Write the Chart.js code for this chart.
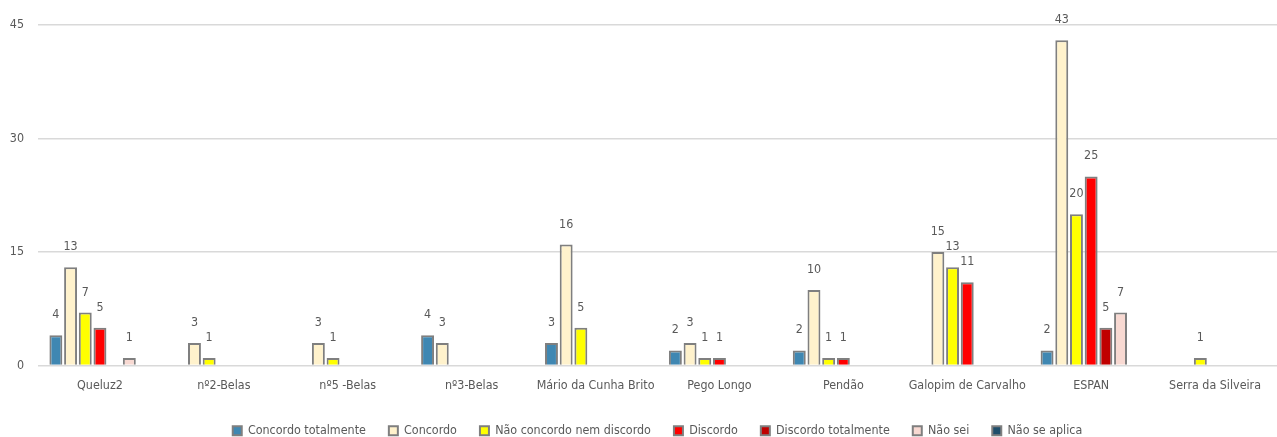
<!DOCTYPE html>
<html>
<head>
<meta charset="utf-8">
<script src="https://cdn.jsdelivr.net/npm/chart.js@4"></script>
<style>
  html, body { margin: 0; padding: 0; background: #fff; }
  #wrap { width: 1277px; height: 437px; }
</style>
</head>
<body>
<div id="wrap"><canvas id="myChart"></canvas></div>
<script>
"use strict";
const escolas = ['Queluz2', 'nº2-Belas', 'nº5 -Belas', 'nº3-Belas', 'Mário da Cunha Brito', 'Pego Longo', 'Pendão', 'Galopim de Carvalho', 'ESPAN', 'Serra da Silveira'];
const concordoTotalmente = [4, 0, 0, 4, 3, 2, 2, 0, 2, 0];
const concordo = [13, 3, 3, 3, 16, 3, 10, 15, 43, 0];
const naoConcordoNemDiscordo = [7, 1, 1, 0, 5, 1, 1, 13, 20, 1];
const discordo = [5, 0, 0, 0, 0, 1, 1, 11, 25, 0];
const discordoTotalmente = [0, 0, 0, 0, 0, 0, 0, 0, 5, 0];
const naoSei = [1, 0, 0, 0, 0, 0, 0, 0, 7, 0];
const naoSeAplica = [0, 0, 0, 0, 0, 0, 0, 0, 0, 0];
const yTicks = [0, 15, 30, 45];

const fonte = "'Liberation Sans Narrow', 'DejaVu Sans Condensed', sans-serif";
const tamanho = 12.4;
const cinza = '#595959';

// etiquetas de valor por cima das barras
const valorLabels = {
    id: 'valorLabels',
    afterDatasetsDraw(chart) {
        const c = chart.ctx;
        c.save();
        c.font = tamanho + 'px ' + fonte;
        c.fillStyle = cinza;
        c.textAlign = 'center';
        c.textBaseline = 'bottom';
        chart.data.datasets.forEach(function(ds, i) {
            const meta = chart.getDatasetMeta(i);
            meta.data.forEach(function(bar, j) {
                const v = ds.data[j];
                if (!v) return;
                c.fillText(String(v), bar.x, bar.y - 14);
            });
        });
        c.restore();
    }
};

function serie(label, data, cor) {
    return {
        label: label,
        data: data,
        backgroundColor: cor,
        borderColor: '#7F7F7F',
        borderWidth: 2,
        barPercentage: 0.88,
        categoryPercentage: 0.83
    };
}

const ctx = document.getElementById('myChart');
var myChart = new Chart(ctx, {
    type: 'bar',
    data: {
        labels: escolas,
        datasets: [
            serie('Concordo totalmente', concordoTotalmente, '#3F87B2'),
            serie('Concordo', concordo, '#FFF2CC'),
            serie('Não concordo nem discordo', naoConcordoNemDiscordo, '#FFFF00'),
            serie('Discordo', discordo, '#FF0000'),
            serie('Discordo totalmente', discordoTotalmente, '#C00000'),
            serie('Não sei', naoSei, '#F8D9D2'),
            serie('Não se aplica', naoSeAplica, '#1F4E6B')
        ]
    },
    options: {
        responsive: true,
        maintainAspectRatio: false,
        animation: false,
        layout: { padding: { top: 25, right: 0, left: 0, bottom: -10 } },
        plugins: {
            tooltip: { enabled: false },
            legend: {
                position: 'bottom',
                fullSize: false,
                labels: {
                    boxWidth: 9,
                    boxHeight: 9,
                    padding: 23,
                    color: cinza,
                    font: { family: fonte, size: tamanho }
                }
            }
        },
        scales: {
            x: {
                grid: { display: false },
                border: { display: false },
                ticks: {
                    color: cinza,
                    padding: 5,
                    maxRotation: 0,
                    autoSkip: false,
                    font: { family: fonte, size: tamanho }
                },
                afterFit: function(scale) { scale.height = 36; }
            },
            y: {
                min: 0,
                max: 45,
                border: { display: false },
                grid: { color: '#D9D9D9', lineWidth: 1.5, drawTicks: false },
                afterBuildTicks: function(scale) {
                    scale.ticks = yTicks.map(function(v) { return { value: v }; });
                },
                afterFit: function(scale) { scale.width = 38; },
                ticks: {
                    color: cinza,
                    padding: 14,
                    font: { family: fonte, size: tamanho }
                }
            }
        }
    },
    plugins: [valorLabels]
});
</script>
</body>
</html>
